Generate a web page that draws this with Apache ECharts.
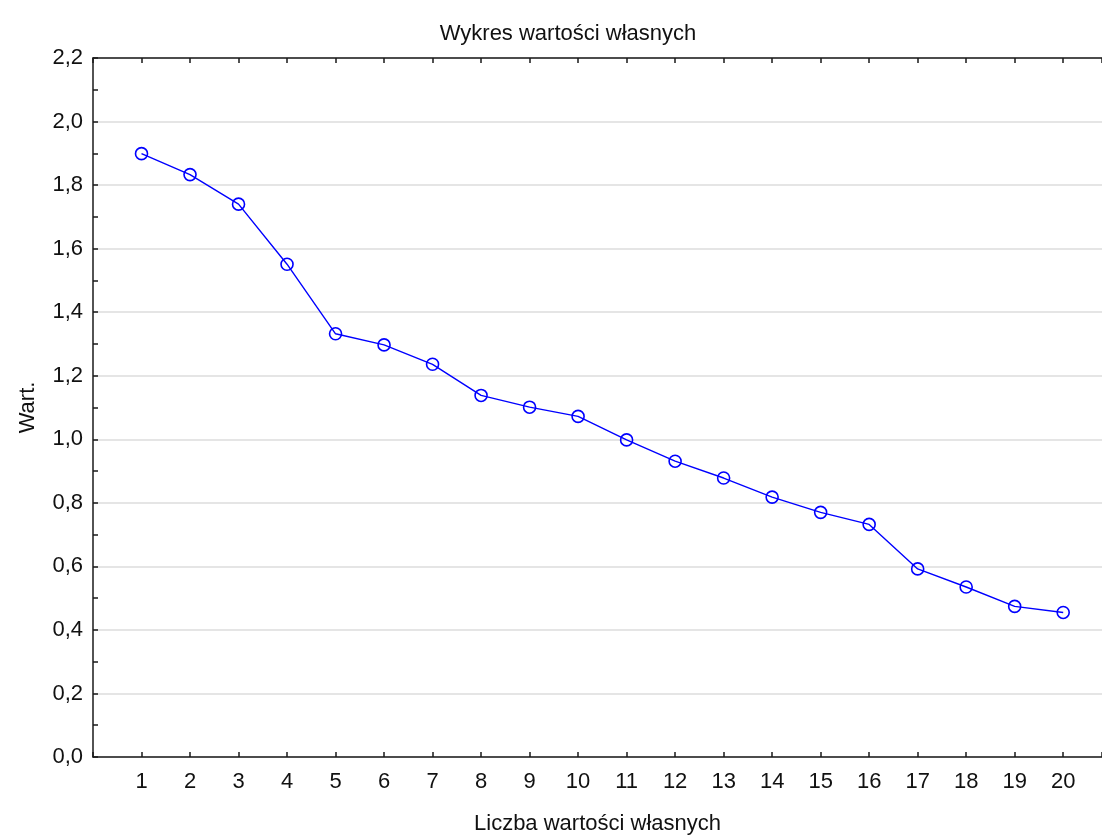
<!DOCTYPE html>
<html>
<head>
<meta charset="utf-8">
<script src="https://cdn.jsdelivr.net/npm/echarts@6/dist/echarts.min.js"></script>
<style>
  html, body { margin: 0; padding: 0; background: #fff; }
  #chart { width: 1102px; height: 835px; }
</style>
</head>
<body>
<div id="chart"></div>
<script>
// Scree plot: eigenvalues by their ordinal number
const eigenNumbers = [1, 2, 3, 4, 5, 6, 7, 8, 9, 10, 11, 12, 13, 14, 15, 16, 17, 18, 19, 20];
const eigenValues = [1.899, 1.833, 1.740, 1.551, 1.332, 1.297, 1.236, 1.138, 1.101, 1.072,
                     0.998, 0.931, 0.878, 0.818, 0.770, 0.732, 0.592, 0.535, 0.474, 0.455];
const yTicks = { min: 0, max: 2.2, step: 0.2 };
const xRange = { min: 0, max: 20.8, step: 1 };

const FONT = '"Liberation Sans", Arial, sans-serif';
const AXIS_COLOR = '#1a1a1a';
const LINE_COLOR = '#0000ff';

const chart = echarts.init(document.getElementById('chart'), null, { renderer: 'canvas' });

const xLabel = v => (Number.isInteger(v) && v >= 1 && v <= 20) ? String(v) : '';

chart.setOption({
  animation: false,
  backgroundColor: '#ffffff',
  title: {
    text: 'Wykres wartości własnych',
    left: 563,
    top: 18,
    textAlign: 'center',
    textStyle: { fontFamily: FONT, fontSize: 22, fontWeight: 'normal', color: '#111' }
  },
  grid: { left: 93, right: 0, top: 58, bottom: 78, containLabel: false, outerBoundsMode: 'none' },
  xAxis: [
    {
      type: 'value',
      position: 'bottom',
      min: xRange.min, max: xRange.max, interval: xRange.step,
      name: 'Liczba wartości własnych',
      nameLocation: 'middle',
      nameGap: 56,
      nameTextStyle: { fontFamily: FONT, fontSize: 22, color: '#111' },
      axisLine: { show: true, lineStyle: { color: AXIS_COLOR, width: 1.5 } },
      axisTick: { show: true, inside: true, length: 5, lineStyle: { color: AXIS_COLOR, width: 1.5 } },
      axisLabel: { formatter: xLabel, fontFamily: FONT, fontSize: 22, color: '#111', margin: 14 },
      splitLine: { show: false }
    },
    {
      type: 'value',
      position: 'top',
      min: xRange.min, max: xRange.max, interval: xRange.step,
      axisLine: { show: true, lineStyle: { color: AXIS_COLOR, width: 1.5 } },
      axisTick: { show: true, inside: true, length: 5, lineStyle: { color: AXIS_COLOR, width: 1.5 } },
      axisLabel: { show: false },
      splitLine: { show: false }
    }
  ],
  yAxis: {
    type: 'value',
    min: yTicks.min, max: yTicks.max, interval: yTicks.step,
    name: 'Wart.',
    nameLocation: 'middle',
    nameGap: 54,
    nameRotate: 90,
    nameTextStyle: { fontFamily: FONT, fontSize: 22, color: '#111' },
    axisLine: { show: true, lineStyle: { color: AXIS_COLOR, width: 1.5 } },
    axisTick: { show: true, inside: true, length: 5, lineStyle: { color: AXIS_COLOR, width: 1.5 } },
    minorTick: { show: true, splitNumber: 2, length: 5, lineStyle: { color: AXIS_COLOR, width: 1.5 } },
    axisLabel: {
      formatter: v => v.toFixed(1).replace('.', ','),
      fontFamily: FONT, fontSize: 22, color: '#111', margin: 10
    },
    splitLine: { show: true, lineStyle: { color: '#dcdcdc', width: 1.5 } }
  },
  series: [{
    type: 'line',
    xAxisIndex: 0,
    data: eigenNumbers.map((n, i) => [n, eigenValues[i]]),
    symbol: 'circle',
    symbolSize: 12,
    lineStyle: { color: LINE_COLOR, width: 1.4 },
    itemStyle: { color: 'rgba(0,0,0,0)', borderColor: LINE_COLOR, borderWidth: 1.6 },
    z: 5
  }]
});
</script>
</body>
</html>
